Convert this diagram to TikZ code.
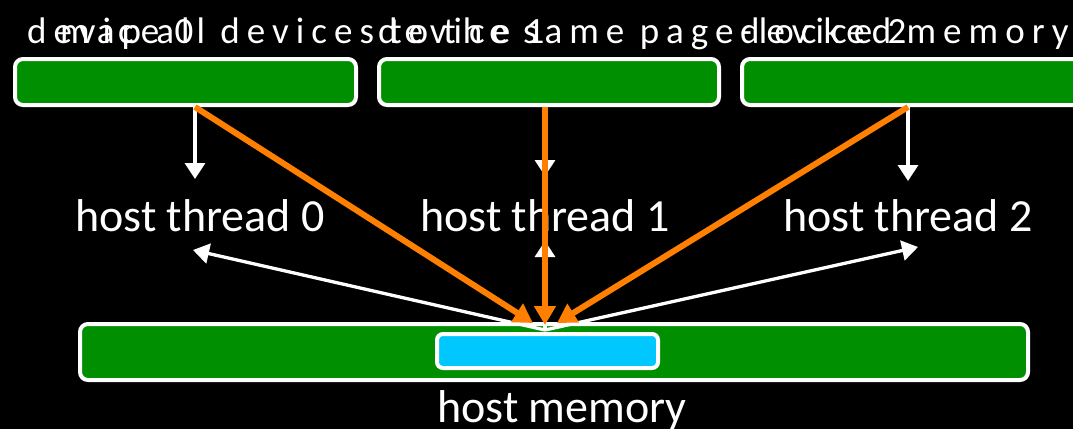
\documentclass[tikz,border=0pt]{standalone}
\usepackage{fontspec}
\setmainfont{Carlito}
\newfontfamily\captionfont[LetterSpace=19]{Carlito}
\usetikzlibrary{arrows.meta}
\definecolor{boxgreen}{RGB}{0,143,0}
\definecolor{mapcyan}{RGB}{0,200,255}
\definecolor{maporange}{RGB}{255,128,0}
\begin{document}
\begin{tikzpicture}[x=1pt,y=-1pt,
  panel/.style={draw=white, line width=4pt, fill=boxgreen, rounded corners=8pt, inner sep=0pt, outer sep=0pt},
  tlabel/.style={text=white, inner sep=0pt, anchor=base, font=\fontsize{46}{50}\selectfont},
  toplabel/.style={text=white, inner sep=0pt, anchor=base west, font=\captionfont\fontsize{37}{40}\selectfont},
  feedline/.style={draw=white, line width=3.3pt, -{Triangle[width=20pt,length=16pt]}},
  mapline/.style={draw=maporange, line width=6pt, -{Triangle[width=21pt,length=19pt]}}]

% canvas
\fill[black] (0,0) rectangle (1073,429);
\useasboundingbox (0,0) rectangle (1073,429);

% device memory panels
\node[panel, minimum width=341pt, minimum height=46pt] (dev0) at (185.5,82) {};
\node[panel, minimum width=340pt, minimum height=46pt] (dev1) at (549,82) {};
\node[panel, minimum width=340pt, minimum height=46pt] (dev2) at (912,82) {};

% host memory with the shared page-locked region
\node[panel, minimum width=948pt, minimum height=56pt] (hostmem) at (554,352) {};
\node[panel, fill=mapcyan, rounded corners=6pt, minimum width=221pt, minimum height=34pt] (pinned) at (547.5,351) {};

% captions along the top
\node[toplabel] (cap0) at (27,43) {device 0};
\node[toplabel] (cap1) at (378,43) {device 1};
\node[toplabel] (cap2) at (740,43) {device 2};
\node[toplabel] (capmap) at (60,43) {map all devices to the same page-locked memory};

% host threads and memory label
\node[tlabel] (thr0) at (200,231) {host thread 0};
\node[tlabel] (thr1) at (545,231) {host thread 1};
\node[tlabel] (thr2) at (908,231) {host thread 2};
\node[tlabel] (memlbl) at (562,422) {host memory};

% connector end points
\coordinate (src0) at ([xshift=9.5pt,yshift=-2pt]dev0.south);
\coordinate (src1) at ([xshift=-4pt,yshift=-2pt]dev1.south);
\coordinate (src2) at ([xshift=-4pt,yshift=-2pt]dev2.south);
\coordinate (in0) at (195,179);
\coordinate (in1) at (545,176);
\coordinate (in2) at (908,181);
\coordinate (hub) at (545,330);
\coordinate (up0) at (193,250);
\coordinate (up1) at (545,241);
\coordinate (up2) at (918,247);
\coordinate (sink0) at (533,323);
\coordinate (sink1) at (545,325);
\coordinate (sink2) at (557,323);

% devices feed their host threads
\draw[feedline] (src0) -- (in0);
\draw[feedline] (src1) -- (in1);
\draw[feedline] (src2) -- (in2);

% host memory reaches every host thread
\draw[feedline] (hub) -- (up0);
\draw[feedline] (hub) -- (up1);
\draw[feedline] (hub) -- (up2);

% each device maps the page-locked region
\draw[mapline] (src0) -- (sink0);
\draw[mapline] (src1) -- (sink1);
\draw[mapline] (src2) -- (sink2);
\end{tikzpicture}
\end{document}
